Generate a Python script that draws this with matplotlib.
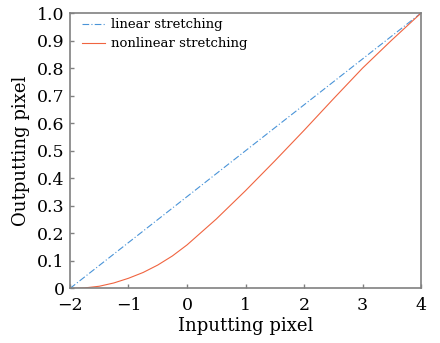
import matplotlib
matplotlib.use("Agg")
import matplotlib.pyplot as plt

# curves
linear_x = [-2, 4]
linear_y = [0.0, 1.0]

nonlinear_x = [-2, -1.75, -1.5, -1.25, -1, -0.75, -0.5, -0.25, 0,
               0.5, 1, 1.5, 2, 2.5, 3, 3.5, 4]
nonlinear_y = [0.0, 0.002, 0.008, 0.02, 0.037, 0.058, 0.085, 0.118, 0.158,
               0.252, 0.355, 0.463, 0.574, 0.688, 0.800, 0.902, 1.0]

x_ticks = [-2, -1, 0, 1, 2, 3, 4]
y_ticks = [0, 0.1, 0.2, 0.3, 0.4, 0.5, 0.6, 0.7, 0.8, 0.9, 1.0]
y_tick_labels = ["0", "0.1", "0.2", "0.3", "0.4", "0.5", "0.6", "0.7", "0.8", "0.9", "1.0"]

plt.rcParams["font.family"] = ["DejaVu Serif"]
plt.rcParams["mathtext.fontset"] = "dejavuserif"

fig = plt.figure(figsize=(4.4, 3.43), dpi=100)
ax = fig.add_axes([0.159, 0.159, 0.798, 0.803])

ax.plot(linear_x, linear_y, color="#4a94d8", lw=0.8, ls=(0, (6, 2, 1, 2)), label="linear stretching")
ax.plot(nonlinear_x, nonlinear_y, color="#f06440", lw=0.8, label="nonlinear stretching")

ax.set_xlim(-2, 4)
ax.set_ylim(0, 1)
ax.set_xticks(x_ticks)
ax.set_yticks(y_ticks, y_tick_labels)
ax.tick_params(direction="in", length=3, width=1, color="#808080", labelsize=12.5)
ax.tick_params(axis="x", pad=6)
ax.tick_params(axis="y", pad=4)
for spine in ax.spines.values():
    spine.set_color("#808080")
    spine.set_linewidth(1.2)

ax.set_xlabel("Inputting pixel", fontsize=13, labelpad=2)
ax.set_ylabel("Outputting pixel", fontsize=13, labelpad=5)

ax.legend(loc="upper left", bbox_to_anchor=(0.018, 1.0), frameon=False, fontsize=9.5,
          handlelength=1.8, handletextpad=0.4, labelspacing=0.45,
          borderaxespad=0.3, borderpad=0.1)

fig.savefig("out.png", dpi=100)
